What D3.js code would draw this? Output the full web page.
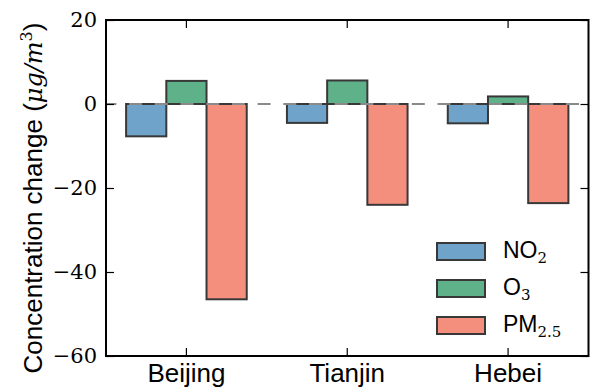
<!DOCTYPE html>
<html>
<head>
<meta charset="utf-8">
<script src="https://cdn.jsdelivr.net/npm/d3@7"></script>
<style>
  body { margin: 0; background: #fff; }
  svg { display: block; }
  .tick text { font-family: "DejaVu Serif", serif; font-size: 21px; fill: #000; }
</style>
</head>
<body>
<svg id="chart" width="590" height="388"></svg>
<script>
// data
const cities = ['Beijing', 'Tianjin', 'Hebei']
const species = ['NO2', 'O3', 'PM25']
const no2 = [-7.7, -4.5, -4.6]
const o3 = [5.5, 5.6, 1.8]
const pm25 = [-46.5, -24.0, -23.6]
const yTicks = [20, 0, -20, -40, -60]

const colors = { NO2: '#6fa3c9', O3: '#5fb18a', PM25: '#f48f7e' }
const series = { NO2: no2, O3: o3, PM25: pm25 }

const svg = d3.select('#chart')
const margin = { left: 106, top: 20, right: 1.5, bottom: 32 }
const width = 590 - margin.left - margin.right
const height = 388 - margin.top - margin.bottom

const chart = svg.append('g')
  .attr('transform', `translate(${margin.left}, ${margin.top})`)

const xScale = d3.scaleBand()
  .domain(cities)
  .range([0, width])
  .padding(0)

const xInner = d3.scaleBand()
  .domain(species)
  .range([xScale.bandwidth() * 0.125, xScale.bandwidth() * 0.875])

const yScale = d3.scaleLinear()
  .domain([-60, 20])
  .range([height, 0])

const fmt = d => (d < 0 ? '\u2212' + Math.abs(d) : '' + d)

// bars
const rows = []
cities.forEach((c, i) => {
  species.forEach(s => rows.push({ city: c, sp: s, value: series[s][i] }))
})

chart.selectAll('rect.bar')
  .data(rows)
  .enter()
  .append('rect')
  .attr('class', 'bar')
  .attr('x', d => xScale(d.city) + xInner(d.sp))
  .attr('y', d => yScale(Math.max(0, d.value)))
  .attr('width', xInner.bandwidth())
  .attr('height', d => Math.abs(yScale(d.value) - yScale(0)))
  .attr('fill', d => colors[d.sp])
  .attr('stroke', '#383838')
  .attr('stroke-width', 2)

// zero line
chart.append('line')
  .attr('x1', 0)
  .attr('x2', width)
  .attr('y1', yScale(0))
  .attr('y2', yScale(0))
  .attr('stroke', '#8a8a8a')
  .attr('stroke-width', 2)
  .attr('stroke-dasharray', '13,12.7')
  .attr('stroke-dashoffset', 2.6)

// axes, ticks pointing inward
const axLeft = chart.append('g')
  .call(d3.axisLeft(yScale).tickValues(yTicks).tickFormat(fmt).tickSizeInner(-8).tickSizeOuter(0).tickPadding(9))
const axRight = chart.append('g')
  .attr('transform', `translate(${width}, 0)`)
  .call(d3.axisRight(yScale).tickValues(yTicks).tickFormat('').tickSizeInner(-8).tickSizeOuter(0))
const axBottom = chart.append('g')
  .attr('transform', `translate(0, ${height})`)
  .call(d3.axisBottom(xScale).tickSizeInner(-8).tickSizeOuter(0).tickPadding(8))
const axTop = chart.append('g')
  .call(d3.axisTop(xScale).tickFormat('').tickSizeInner(-8).tickSizeOuter(0))

;[axLeft, axRight, axBottom, axTop].forEach(g => {
  g.select('.domain').remove()
  g.selectAll('.tick line').attr('stroke', '#000').attr('stroke-width', 1.2)
})
axBottom.selectAll('.tick text')
  .style('font-family', '"Liberation Sans", Arial, sans-serif')
  .style('font-size', '26px')

// frame
chart.append('rect')
  .attr('x', 0).attr('y', 0)
  .attr('width', width).attr('height', height)
  .attr('fill', 'none')
  .attr('stroke', '#000')
  .attr('stroke-width', 2)

// y label
const ylab = svg.append('text')
  .attr('transform', `translate(42, ${margin.top + height / 2 + 10}) rotate(-90)`)
  .attr('text-anchor', 'middle')
  .style('font-family', '"Liberation Sans", Arial, sans-serif')
  .style('font-size', '26px')
ylab.append('tspan').text('Concentration change (')
ylab.append('tspan').style('font-family', '"DejaVu Serif", serif').style('font-style', 'italic').style('font-size', '24px').text('\u03bcg/m')
ylab.append('tspan').style('font-family', '"DejaVu Serif", serif').style('font-size', '16px').attr('dy', -10).text('3')
ylab.append('tspan').attr('dy', 10).text(')')

// legend
const legendLabels = [['NO', '2'], ['O', '3'], ['PM', '2.5']]
const legend = svg.append('g').attr('transform', 'translate(437, 243)')
species.forEach((s, i) => {
  const g = legend.append('g').attr('transform', `translate(0, ${i * 37})`)
  g.append('rect')
    .attr('width', 48).attr('height', 17)
    .attr('fill', colors[s])
    .attr('stroke', '#383838')
    .attr('stroke-width', 2)
  const t = g.append('text')
    .attr('x', 66).attr('y', 15)
    .style('font-family', '"Liberation Sans", Arial, sans-serif')
    .style('font-size', '23px')
  t.append('tspan').text(legendLabels[i][0])
  t.append('tspan')
    .attr('dy', 5)
    .style('font-family', '"DejaVu Serif", serif')
    .style('font-size', '15px')
    .text(legendLabels[i][1])
})
</script>
</body>
</html>
